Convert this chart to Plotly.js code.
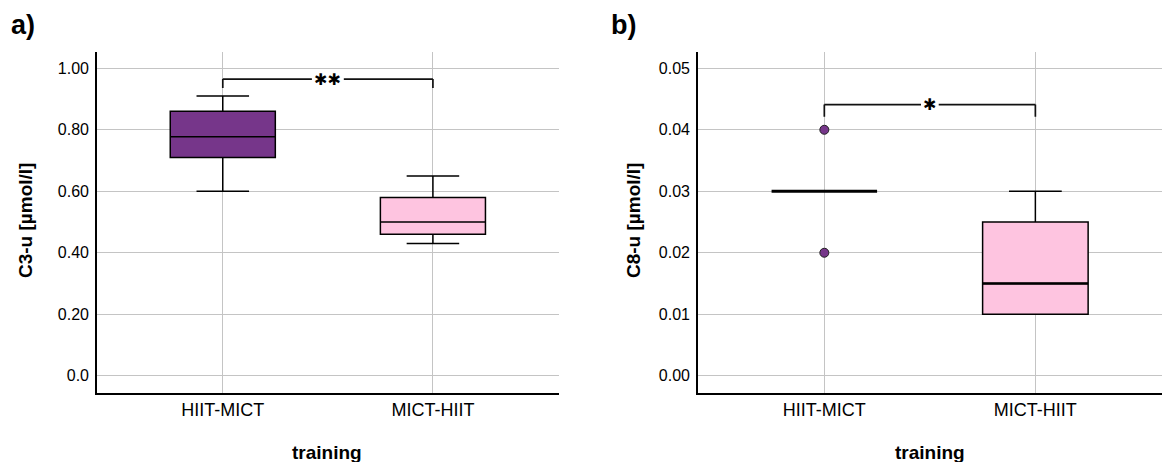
<!DOCTYPE html>
<html>
<head>
<meta charset="utf-8">
<script src="https://cdn.plot.ly/plotly-3.0.1.min.js"></script>
<style>html,body{margin:0;padding:0;background:#fff;}#chart{width:1162px;height:462px;}</style>
</head>
<body>
<div id="chart"></div>
<script>
// ---- data ----
const categories = ['HIIT-MICT', 'MICT-HIIT'];

// panel a: C3-u [µmol/l]
const c3Lower  = [0.60, 0.43];
const c3Q1     = [0.71, 0.46];
const c3Median = [0.777, 0.50];
const c3Q3     = [0.86, 0.58];
const c3Upper  = [0.91, 0.65];

// panel b: C8-u [µmol/l]
const c8Lower  = [0.03, 0.01];
const c8Q1     = [0.03, 0.01];
const c8Median = [0.03, 0.015];
const c8Q3     = [0.03, 0.025];
const c8Upper  = [0.03, 0.03];
const c8OutlierX = ['HIIT-MICT', 'HIIT-MICT'];
const c8OutlierY = [0.04, 0.02];

// tick labels
const aTickVals = [0, 0.2, 0.4, 0.6, 0.8, 1.0];
const aTickText = ['0.0', '0.20', '0.40', '0.60', '0.80', '1.00'];
const bTickVals = [0, 0.01, 0.02, 0.03, 0.04, 0.05];
const bTickText = ['0.00', '0.01', '0.02', '0.03', '0.04', '0.05'];

// significance brackets (height, leg end, label)
const sigY     = [0.965, 0.0441];
const sigLegY  = [0.936, 0.0421];
const sigLabel = ['✱✱', '✱'];

// ---- style ----
const colors = ['#76368a', '#fec4e0'];
const FONT = 'Liberation Sans, Arial, sans-serif';
const GRID = '#c4c4c4';
const BOXW = 0.5;

function boxTrace(i, lo, q1, med, q3, up, xa, ya, lw) {
  return {
    type: 'box', x: [categories[i]],
    lowerfence: [lo[i]], q1: [q1[i]], median: [med[i]], q3: [q3[i]], upperfence: [up[i]],
    xaxis: xa, yaxis: ya, width: BOXW, whiskerwidth: 0.5,
    fillcolor: colors[i], line: {color: '#000', width: lw},
    boxpoints: false, hoverinfo: 'skip', showlegend: false
  };
}

const data = [
  boxTrace(0, c3Lower, c3Q1, c3Median, c3Q3, c3Upper, 'x', 'y', 1.5),
  boxTrace(1, c3Lower, c3Q1, c3Median, c3Q3, c3Upper, 'x', 'y', 1.5),
  boxTrace(0, c8Lower, c8Q1, c8Median, c8Q3, c8Upper, 'x2', 'y2', 3),
  boxTrace(1, c8Lower, c8Q1, c8Median, c8Q3, c8Upper, 'x2', 'y2', 1.5),
  {
    type: 'scatter', mode: 'markers', x: c8OutlierX, y: c8OutlierY,
    xaxis: 'x2', yaxis: 'y2',
    marker: {size: 9, color: colors[0], line: {color: '#222', width: 1}},
    hoverinfo: 'skip', showlegend: false
  }
];

function xax(domain) {
  return {
    domain: domain, type: 'category', categoryorder: 'array', categoryarray: categories,
    range: [-0.6, 1.6], showgrid: true, gridcolor: GRID, gridwidth: 1,
    showline: true, linecolor: '#000', linewidth: 1.5, ticks: '', zeroline: false,
    tickfont: {family: FONT, size: 18, color: '#000'}, ticklabelstandoff: 0, fixedrange: true
  };
}
function yax(range, vals, text, anchor) {
  return {
    domain: [1 - 393.3/462, 1 - 52/462], range: range, anchor: anchor,
    tickmode: 'array', tickvals: vals, ticktext: text,
    showgrid: true, gridcolor: GRID, gridwidth: 1, zeroline: false,
    showline: true, linecolor: '#000', linewidth: 1.5, ticks: '',
    tickfont: {family: FONT, size: 16, color: '#000'}, ticklabelstandoff: 3, fixedrange: true
  };
}

const shapes = [];
const annotations = [];
const gapHalf = [0.076, 0.042];
[['x', 'y'], ['x2', 'y2']].forEach(function (ax, k) {
  const line = {color: '#111', width: 1.7};
  const segs = [
    [0, sigLegY[k], 0, sigY[k]],
    [0, sigY[k], 0.5 - gapHalf[k], sigY[k]],
    [0.5 + gapHalf[k], sigY[k], 1, sigY[k]],
    [1, sigY[k], 1, sigLegY[k]]
  ];
  segs.forEach(function (s) {
    shapes.push({type: 'line', xref: ax[0], yref: ax[1], x0: s[0], y0: s[1], x1: s[2], y1: s[3], line: line});
  });
  annotations.push({
    xref: ax[0], yref: ax[1], x: 0.5, y: sigY[k], text: sigLabel[k], showarrow: false,
    xanchor: 'center', yanchor: 'middle',
    font: {family: 'DejaVu Sans', size: 16, color: '#000'}
  });
});
// heavier median line for the MICT-HIIT box in panel b (as in the source)
shapes.push({type: 'line', xref: 'x2', yref: 'y2', x0: 1 - BOXW / 2, x1: 1 + BOXW / 2,
  y0: c8Median[1], y1: c8Median[1], line: {color: '#000', width: 2.5}});

const titleFont = {family: FONT, size: 19, color: '#000', weight: 'bold'};
annotations.push(
  {xref: 'paper', yref: 'paper', x: 26/1162, y: 1 - 221/462, text: '<b>C3-u [µmol/l]</b>', textangle: -90,
   showarrow: false, xanchor: 'center', yanchor: 'middle', font: titleFont},
  {xref: 'paper', yref: 'paper', x: 634/1162, y: 1 - 221/462, text: '<b>C8-u [µmol/l]</b>', textangle: -90,
   showarrow: false, xanchor: 'center', yanchor: 'middle', font: titleFont},
  {xref: 'paper', yref: 'paper', x: 327/1162, y: 1 - 452/462, text: '<b>training</b>',
   showarrow: false, xanchor: 'center', yanchor: 'middle', font: titleFont},
  {xref: 'paper', yref: 'paper', x: 930/1162, y: 1 - 452/462, text: '<b>training</b>',
   showarrow: false, xanchor: 'center', yanchor: 'middle', font: titleFont},
  {xref: 'paper', yref: 'paper', x: 23/1162, y: 1 - 25/462, text: '<b>a)</b>',
   showarrow: false, xanchor: 'center', yanchor: 'middle', font: {family: FONT, size: 27, color: '#000'}},
  {xref: 'paper', yref: 'paper', x: 623/1162, y: 1 - 25/462, text: '<b>b)</b>',
   showarrow: false, xanchor: 'center', yanchor: 'middle', font: {family: FONT, size: 27, color: '#000'}}
);

const layout = {
  width: 1162, height: 462,
  margin: {l: 0, r: 0, t: 0, b: 0},
  paper_bgcolor: '#fff', plot_bgcolor: '#fff',
  showlegend: false, boxmode: 'overlay',
  xaxis: xax([96.7/1162, 559/1162]),
  yaxis: yax([-0.057, 1.053], aTickVals, aTickText, 'x'),
  xaxis2: xax([697.7/1162, 1]),
  yaxis2: yax([-0.00286, 0.05265], bTickVals, bTickText, 'x2'),
  shapes: shapes, annotations: annotations
};
layout.xaxis.anchor = 'y';
layout.xaxis2.anchor = 'y2';

Plotly.newPlot('chart', data, layout, {staticPlot: true, displayModeBar: false});
</script>
</body>
</html>
